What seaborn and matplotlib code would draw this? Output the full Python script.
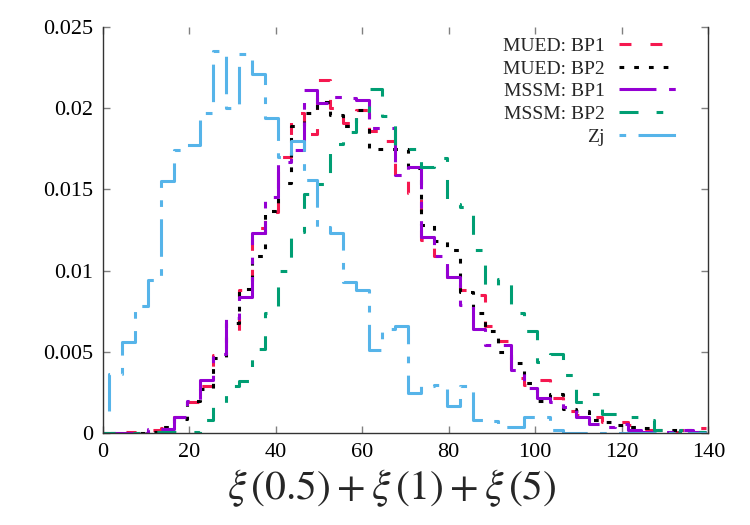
import numpy as np
import pandas as pd
import matplotlib
matplotlib.use("Agg")
import matplotlib.pyplot as plt
import seaborn as sns

# ---------------- data (bin centres, width 3) ----------------
bin_width = 3
bin_centers = list(range(0, 141, bin_width))  # 0 ... 138

mued_bp1 = [0, 0.0001, 0.0001, 0, 0.0002, 0.0003, 0.0010, 0.0019, 0.0029, 0.0048,
            0.0060, 0.0088, 0.0126, 0.0136, 0.0170, 0.0197, 0.0184, 0.0217, 0.0200, 0.0191,
            0.0199, 0.0186, 0.0180, 0.0157, 0.0148, 0.0119, 0.0109, 0.0096, 0.0088, 0.0085,
            0.0066, 0.0057, 0.0034, 0.0030, 0.0033, 0.0022, 0.0014, 0.0011, 0.0010, 0.0007,
            0.0007, 0.0005, 0.0002, 0.0001, 0.0001, 0.0002, 0.0003]
mued_bp2 = [0, 0, 0, 0, 0.0001, 0.0004, 0.0009, 0.0020, 0.0027, 0.0046,
            0.0068, 0.0089, 0.0109, 0.0137, 0.0154, 0.0189, 0.0197, 0.0204, 0.0196, 0.0189,
            0.0199, 0.0175, 0.0175, 0.0175, 0.0163, 0.0128, 0.0118, 0.0113, 0.0087, 0.0074,
            0.0063, 0.0050, 0.0043, 0.0031, 0.0020, 0.0024, 0.0015, 0.0014, 0.0008, 0.0007,
            0.0005, 0.0004, 0.0003, 0.0002, 0.0002, 0.0002, 0.0001]
mssm_bp1 = [0, 0, 0, 0, 0.00025, 0.00025, 0.0010, 0.0020, 0.0033, 0.0049,
            0.0071, 0.0084, 0.0123, 0.01455, 0.0167, 0.0174, 0.0211, 0.0203, 0.0207, 0.0206,
            0.0205, 0.0188, 0.0188, 0.0159, 0.0164, 0.0121, 0.0109, 0.0096, 0.0079, 0.0064,
            0.0054, 0.0054, 0.0039, 0.0028, 0.0022, 0.0019, 0.0016, 0.0010, 0.0006, 0.0004,
            0.0006, 0.0002, 0.0001, 0.0001, 0.0001, 0.0002, 0.0001]
mssm_bp2 = [0, 0, 0, 0, 0.0001, 0.0001, 0.0001, 0.0001, 0.0008, 0.0016,
            0.0029, 0.0032, 0.0052, 0.0074, 0.0100, 0.0124, 0.0147, 0.0153, 0.0178, 0.0185,
            0.0198, 0.0212, 0.0195, 0.0177, 0.0175, 0.0164, 0.0169, 0.0141, 0.0139, 0.0113,
            0.0090, 0.0095, 0.0074, 0.0063, 0.0044, 0.0049, 0.0036, 0.0019, 0.0024, 0.0012,
            0.0012, 0.0010, 0.0008, 0.0002, 0.0001, 0.0002, 0.0001]
zj = [0.0010, 0.00365, 0.0056, 0.0078, 0.0094, 0.0155, 0.0174, 0.0177, 0.0197, 0.0235,
      0.0200, 0.0233, 0.0221, 0.0194, 0.0170, 0.0180, 0.0156, 0.0127, 0.0123, 0.0093,
      0.0088, 0.0051, 0.0064, 0.0066, 0.0025, 0.0029, 0.0030, 0.0017, 0.0029, 0.0008,
      0.00075, 0.0004, 0.0004, 0.0010, 0.0010, 0.0002, 0, 0, 0, 0,
      0, 0, 0, 0, 0, 0, 0]

series_names = ["MUED: BP1", "MUED: BP2", "MSSM: BP1", "MSSM: BP2", "Zj"]
series_values = [mued_bp1, mued_bp2, mssm_bp1, mssm_bp2, zj]

x_ticks = [0, 20, 40, 60, 80, 100, 120, 140]
y_ticks = [0, 0.005, 0.01, 0.015, 0.02, 0.025]
y_tick_labels = ["0", "0.005", "0.01", "0.015", "0.02", "0.025"]

# ---------------- styles ----------------
styles = {
    "MUED: BP1": dict(color="#f5184f", linestyle=(0, (8.6, 13.7))),
    "MUED: BP2": dict(color="#000000", linestyle=(0, (3.4, 7.2))),
    "MSSM: BP1": dict(color="#9400d3", linestyle=(0, (26.6, 9.1, 4.8, 9.1))),
    "MSSM: BP2": dict(color="#009e73", linestyle=(0, (13.7, 13.0, 4.8, 13.0))),
    "Zj": dict(color="#56b4e9", linestyle=(0, (4.8, 8.9, 27.0, 8.9))),
}

sns.set_theme(style="ticks")
plt.rcParams["font.family"] = ["Liberation Serif", "DejaVu Serif"]
plt.rcParams["mathtext.fontset"] = "stix"
plt.rcParams["lines.scale_dashes"] = False

fig = plt.figure(figsize=(7.5, 5.25), dpi=100)
ax = fig.add_axes([0.1368, 0.1747, 0.8076, 0.7743])

# histogram steps (gnuplot "histeps"): edges at centre +- half bin width
for name, vals in zip(series_names, series_values):
    edges = [c - bin_width / 2 for c in bin_centers] + [bin_centers[-1] + bin_width / 2]
    df = pd.DataFrame({"x": edges, "y": list(vals) + [vals[-1]]})
    sns.lineplot(data=df, x="x", y="y", ax=ax, estimator=None, sort=False,
                 drawstyle="steps-post", linewidth=2.2, label=name,
                 dash_capstyle="butt", **styles[name])

ax.set_xlim(0, 140)
ax.set_ylim(0, 0.025)
ax.set_xticks(x_ticks)
ax.set_xticklabels([str(t) for t in x_ticks])
ax.set_yticks(y_ticks)
ax.set_yticklabels(y_tick_labels)
ax.tick_params(axis="both", direction="in", length=5, width=1.0, color="#808080",
               labelsize=16, labelcolor="black", top=True, right=True, pad=7)
ax.set_ylabel("")
ax.set_xlabel(r"$\xi\,(0.5)+\xi\,(1)+\xi\,(5)$", fontsize=30)
ax.xaxis.set_label_coords(0.478, -0.085)

for side in ["left", "bottom", "right"]:
    ax.spines[side].set_color("#333333")
    ax.spines[side].set_linewidth(1.0)
ax.spines["top"].set_visible(False)

leg = ax.legend(loc="upper right", bbox_to_anchor=(0.9467, 0.974), frameon=False,
                markerfirst=False, fontsize=14, handlelength=2.94, handletextpad=0.72,
                labelspacing=0.26, borderpad=0, borderaxespad=0)

fig.savefig("out.png", dpi=100)
